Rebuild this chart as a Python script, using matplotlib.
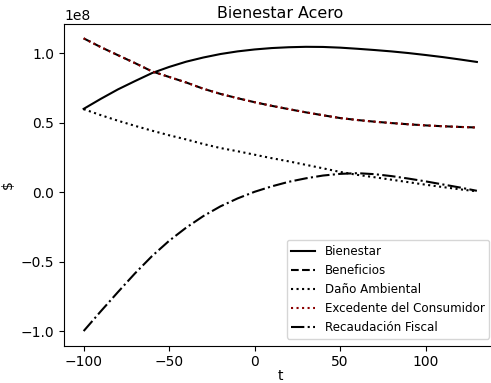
import matplotlib
matplotlib.use("Agg")
import matplotlib.pyplot as plt

t = [-100, -90, -80, -70, -60, -50, -40, -30, -20, -10, 0, 10, 20, 30, 40,
     50, 60, 70, 80, 90, 100, 110, 120, 130]

bienestar = [0.600, 0.672, 0.740, 0.800, 0.858, 0.902, 0.940, 0.970, 0.995, 1.014,
             1.028, 1.038, 1.044, 1.047, 1.046, 1.041, 1.033, 1.024, 1.014, 1.002,
             0.988, 0.973, 0.956, 0.938]
beneficios = [1.108, 1.045, 0.987, 0.930, 0.870, 0.830, 0.790, 0.745, 0.708, 0.677,
              0.648, 0.622, 0.598, 0.575, 0.554, 0.534, 0.520, 0.508, 0.498, 0.489,
              0.481, 0.475, 0.470, 0.466]
excedente = list(beneficios)
dano = [0.598, 0.555, 0.515, 0.478, 0.443, 0.410, 0.380, 0.347, 0.318, 0.295,
        0.270, 0.245, 0.222, 0.197, 0.172, 0.146, 0.125, 0.108, 0.090, 0.072,
        0.054, 0.037, 0.021, 0.006]
recaudacion = [-1.000, -0.858, -0.720, -0.585, -0.460, -0.350, -0.255, -0.172, -0.102, -0.045,
               0.003, 0.042, 0.075, 0.100, 0.120, 0.132, 0.137, 0.130, 0.116, 0.098,
               0.078, 0.056, 0.034, 0.010]

scale = 1e8

fig = plt.figure(figsize=(4.91, 3.83), dpi=100)
ax = fig.add_axes([0.1303, 0.0974, 0.881, 0.8407])

ax.plot(t, [v * scale for v in bienestar], color="black", linestyle="-", label="Bienestar")
ax.plot(t, [v * scale for v in beneficios], color="black", linestyle="--", label="Beneficios")
ax.plot(t, [v * scale for v in dano], color="black", linestyle=":", label="Daño Ambiental")
ax.plot(t, [v * scale for v in excedente], color="darkred", linestyle=":", label="Excedente del Consumidor")
ax.plot(t, [v * scale for v in recaudacion], color="black", linestyle="-.", label="Recaudación Fiscal")

ax.set_title("Bienestar Acero", fontsize=11.4, pad=4)
ax.set_xlabel("t", labelpad=0)
ax.set_ylabel("\\$")
ax.legend(loc="lower right", fontsize=8.6, borderaxespad=0.6)

fig.savefig("out.png", dpi=100)
